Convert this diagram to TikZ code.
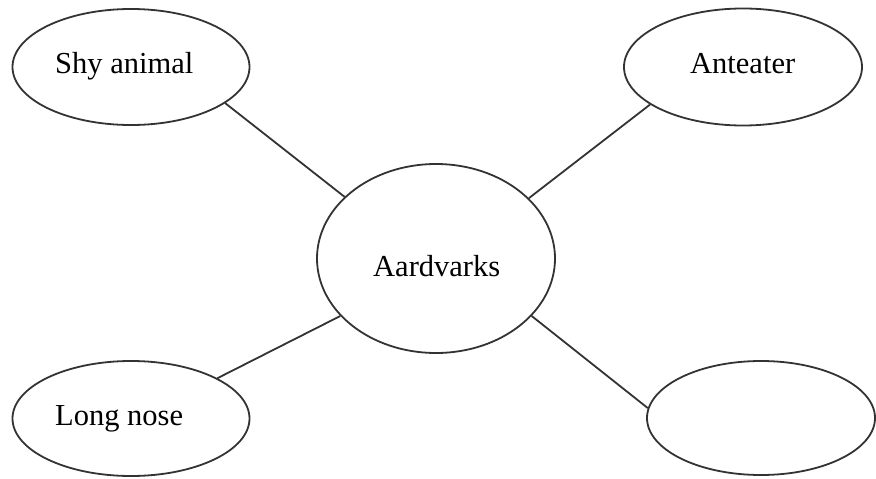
\documentclass[tikz,border=0pt]{standalone}
\usepackage{fontspec}
\setmainfont{Liberation Serif}
\usetikzlibrary{shapes.geometric}
\tikzset{
  bubble/.style={ellipse, draw=black!80, line width=1.8pt, inner sep=0pt},
  lbl/.style={anchor=base west, inner sep=0pt, font=\fontsize{30.5}{36}\selectfont},
  link/.style={draw=black!80, line width=1.8pt}
}
\begin{document}
\begin{tikzpicture}[x=1pt,y=-1pt]
\useasboundingbox (0,0) rectangle (876,479);
\node[bubble, minimum width=237pt, minimum height=116pt] (shy) at (131,67) {};
\node[bubble, minimum width=238pt, minimum height=117pt] (ant) at (743,67) {};
\node[bubble, minimum width=238pt, minimum height=189pt] (aard) at (436,258.5) {};
\node[bubble, minimum width=237pt, minimum height=115pt] (long) at (131,418.5) {};
\node[bubble, minimum width=228pt, minimum height=114pt] (empty) at (761,418) {};
\node[lbl] (tshy) at (55,73) {Shy animal};
\node[lbl] (tant) at (690,73) {Anteater};
\node[lbl] (taard) at (373,276) {Aardvarks};
\node[lbl] (tlong) at (55,425) {Long nose};
\draw[link] (shy.-21) -- (aard.146.7);
\draw[link] (ant.-158.8) -- (aard.33.1);
\draw[link] (long.25.5) -- (aard.211.7);
\draw[link] (empty.175) -- (aard.-31.3);
\end{tikzpicture}
\end{document}
